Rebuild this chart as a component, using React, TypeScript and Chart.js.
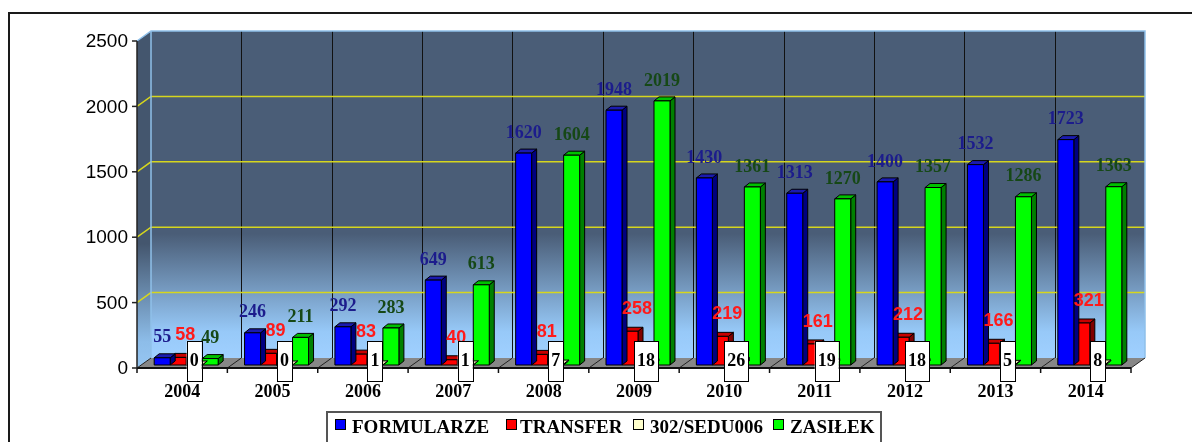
import React, { useEffect, useRef } from 'react';
import { Chart, registerables } from 'chart.js';

Chart.register(...registerables);

const years = ['2004', '2005', '2006', '2007', '2008', '2009', '2010', '2011', '2012', '2013', '2014'];
const formularze = [55, 246, 292, 649, 1620, 1948, 1430, 1313, 1400, 1532, 1723];
const transfer = [58, 89, 83, 40, 81, 258, 219, 161, 212, 166, 321];
const sedu = [0, 0, 1, 1, 7, 18, 26, 19, 18, 5, 8];
const zasilek = [49, 211, 283, 613, 1604, 2019, 1361, 1270, 1357, 1286, 1363];
const yTicks = [0, 500, 1000, 1500, 2000, 2500];
const seriesNames = ['FORMULARZE', 'TRANSFER', '302/SEDU006', 'ZASIŁEK'];

const SERIF = '"Liberation Serif", "Times New Roman", serif';
const SANS = '"Liberation Sans", Arial, sans-serif';

const FRONT = ['#0000ff', '#ff0000', '#ffffcc', '#00ff00'];
const SIDE = ['#000080', '#800000', '#cccc99', '#008000'];
const TOP = ['#1a1ab0', '#c80000', '#e6e6b0', '#00c000'];
const LABEL = ['#1c1c8c', '#ff1a1a', '#000000', '#164816'];

const DX = 14, DY = -10; // wall depth
const BDX = 5, BDY = -4; // bar depth
const SX = 4, SY = -3; // bar plane shift

function poly(ctx: CanvasRenderingContext2D, pts: number[][], fill?: any, stroke?: string, lw = 1) {
  ctx.beginPath();
  ctx.moveTo(pts[0][0], pts[0][1]);
  for (let i = 1; i < pts.length; i++) ctx.lineTo(pts[i][0], pts[i][1]);
  ctx.closePath();
  if (fill) { ctx.fillStyle = fill; ctx.fill(); }
  if (stroke) { ctx.strokeStyle = stroke; ctx.lineWidth = lw; ctx.stroke(); }
}

const scenePlugin = {
  id: 'scene3d',
  beforeDraw(chart: any) {
    const { ctx, chartArea: a, scales } = chart;
    const ys = scales.y;
    const n = years.length;
    const cw = (a.right - a.left) / n;
    ctx.save();
    // outer frame
    ctx.strokeStyle = '#1a1a1a';
    ctx.lineWidth = 2;
    ctx.strokeRect(9, 13, 1400, 800);

    const bl = a.left + DX, br = a.right + DX, bt = a.top + DY, bb = a.bottom + DY;
    // back wall
    const g = ctx.createLinearGradient(0, bt, 0, bb);
    g.addColorStop(0, '#4a5d77');
    g.addColorStop(0.62, '#4a5d77');
    g.addColorStop(0.92, '#97c9f8');
    g.addColorStop(1, '#a0d0ff');
    ctx.fillStyle = g;
    ctx.fillRect(bl, bt, br - bl, bb - bt);
    // left wall
    const g2 = ctx.createLinearGradient(0, a.top, 0, a.bottom);
    g2.addColorStop(0, '#44566e');
    g2.addColorStop(0.62, '#44566e');
    g2.addColorStop(0.92, '#8dbde9');
    g2.addColorStop(1, '#96c6f2');
    poly(ctx, [[a.left, a.top], [bl, bt], [bl, bb], [a.left, a.bottom]], g2);

    // vertical category lines on back wall
    ctx.strokeStyle = '#111';
    ctx.lineWidth = 1;
    for (let i = 1; i < n; i++) {
      const x = Math.round(bl + i * cw) + 0.5;
      ctx.beginPath(); ctx.moveTo(x, bt); ctx.lineTo(x, bb); ctx.stroke();
    }
    // yellow gridlines
    ctx.strokeStyle = '#d6d61e';
    ctx.lineWidth = 1.5;
    for (const v of yTicks) {
      if (v === 0 || v === 2500) continue;
      const y = ys.getPixelForValue(v);
      ctx.beginPath();
      ctx.moveTo(a.left, y);
      ctx.lineTo(bl, y + DY);
      ctx.lineTo(br, y + DY);
      ctx.stroke();
    }
    // wall border (light blue)
    ctx.strokeStyle = '#8fc0ea';
    ctx.lineWidth = 1.5;
    ctx.beginPath();
    ctx.moveTo(a.left, a.top);
    ctx.lineTo(bl, bt);
    ctx.lineTo(br, bt);
    ctx.lineTo(br, bb);
    ctx.stroke();
    ctx.beginPath();
    ctx.moveTo(bl, bt);
    ctx.lineTo(bl, bb);
    ctx.stroke();

    // floor
    poly(ctx, [[a.left, a.bottom], [a.right, a.bottom], [br, bb], [bl, bb]], '#878787');
    ctx.strokeStyle = '#222';
    ctx.lineWidth = 1;
    for (let i = 1; i <= n; i++) {
      const x = a.left + i * cw;
      ctx.beginPath(); ctx.moveTo(x, a.bottom); ctx.lineTo(x + DX, a.bottom + DY); ctx.stroke();
    }
    ctx.beginPath(); ctx.moveTo(a.left, a.bottom); ctx.lineTo(bl, bb); ctx.stroke();
    // front edge
    ctx.strokeStyle = '#111';
    ctx.lineWidth = 2;
    ctx.beginPath(); ctx.moveTo(a.left, a.bottom); ctx.lineTo(a.right, a.bottom); ctx.stroke();
    ctx.lineWidth = 1.5;
    for (let i = 0; i <= n; i++) {
      const x = a.left + i * cw;
      ctx.beginPath(); ctx.moveTo(x, a.bottom); ctx.lineTo(x, a.bottom + 5); ctx.stroke();
    }
    // y axis line and ticks
    ctx.strokeStyle = '#222';
    ctx.lineWidth = 1.5;
    ctx.beginPath(); ctx.moveTo(a.left, a.top); ctx.lineTo(a.left, a.bottom); ctx.stroke();
    ctx.fillStyle = '#000';
    ctx.font = '19px ' + SANS;
    ctx.textAlign = 'right';
    ctx.textBaseline = 'middle';
    for (const v of yTicks) {
      const y = ys.getPixelForValue(v);
      ctx.beginPath(); ctx.moveTo(a.left - 5, y); ctx.lineTo(a.left, y); ctx.stroke();
      ctx.fillText(String(v), a.left - 9, y + 1);
    }
    // category labels
    ctx.font = 'bold 18px ' + SERIF;
    ctx.textAlign = 'center';
    for (let i = 0; i < n; i++) {
      ctx.fillText(years[i], scales.x.getPixelForValue(i), a.bottom + 24);
    }
    ctx.restore();
  },
  beforeDatasetsDraw(chart: any) {
    chart.ctx.save();
    chart.ctx.translate(SX, SY);
  },
  afterDatasetDraw(chart: any, args: any) {
    const ctx = chart.ctx;
    const di = args.index;
    const meta = args.meta;
    for (const el of meta.data) {
      const p = el.getProps(['x', 'y', 'base', 'width'], true);
      const l = p.x - p.width / 2, r = p.x + p.width / 2;
      const t = Math.min(p.y, p.base), b = Math.max(p.y, p.base);
      poly(ctx, [[r, t], [r + BDX, t + BDY], [r + BDX, b + BDY], [r, b]], SIDE[di], '#000', 1);
      poly(ctx, [[l, t], [l + BDX, t + BDY], [r + BDX, t + BDY], [r, t]], TOP[di], '#000', 1);
      poly(ctx, [[l, t], [r, t], [r, b], [l, b]], FRONT[di], '#000', 1);
    }
  },
  afterDatasetsDraw(chart: any) {
    chart.ctx.restore();
  },
  afterDraw(chart: any) {
    const { ctx, chartArea: a } = chart;
    ctx.save();
    ctx.textAlign = 'center';
    ctx.textBaseline = 'middle';
    // value labels
    for (let di = 0; di < 4; di++) {
      const meta = chart.getDatasetMeta(di);
      const vals = chart.data.datasets[di].data;
      meta.data.forEach((el: any, i: number) => {
        const p = el.getProps(['x', 'y'], true);
        const txt = String(vals[i]);
        if (di === 2) {
          ctx.font = 'bold 18px ' + SERIF;
          const w = ctx.measureText(txt).width + 6;
          const cx = p.x + SX;
          const top = a.bottom - 27, bot = a.bottom + 13;
          ctx.fillStyle = '#fff';
          ctx.fillRect(cx - w / 2, top, w, bot - top);
          ctx.strokeStyle = '#000';
          ctx.lineWidth = 1;
          ctx.strokeRect(Math.round(cx - w / 2) + 0.5, top + 0.5, Math.round(w), bot - top);
          ctx.fillStyle = '#000';
          ctx.fillText(txt, cx, a.bottom - 7);
        } else if (di === 1) {
          ctx.font = 'bold 18px ' + SANS;
          ctx.fillStyle = LABEL[di];
          ctx.fillText(txt, p.x + SX + 7, p.y + SY - 22);
        } else {
          ctx.font = 'bold 18px ' + SERIF;
          ctx.fillStyle = LABEL[di];
          ctx.fillText(txt, p.x + SX, p.y + SY - 20);
        }
      });
    }
    // legend
    const lx0 = 327, lx1 = 881, ly0 = 412;
    ctx.strokeStyle = '#555';
    ctx.lineWidth = 2;
    ctx.strokeRect(lx0, ly0, lx1 - lx0, 60);
    const sqX = [335, 506, 633, 773];
    const txX = [352, 520, 650, 790];
    ctx.textAlign = 'left';
    ctx.font = 'bold 19px ' + SERIF;
    for (let i = 0; i < 4; i++) {
      ctx.fillStyle = FRONT[i];
      ctx.fillRect(sqX[i], 419, 11, 11);
      ctx.strokeStyle = '#000';
      ctx.lineWidth = 1;
      ctx.strokeRect(sqX[i] + 0.5, 419.5, 10, 10);
      ctx.fillStyle = '#000';
      ctx.fillText(seriesNames[i], txX[i], 428);
    }
    ctx.restore();
  },
};

export default function App() {
  const ref = useRef<HTMLCanvasElement>(null);
  useEffect(() => {
    if (!ref.current) return;
    const chart = new Chart(ref.current, {
      type: 'bar',
      data: {
        labels: years,
        datasets: [
          { label: seriesNames[0], data: formularze, backgroundColor: 'rgba(0,0,0,0)', borderWidth: 0 },
          { label: seriesNames[1], data: transfer, backgroundColor: 'rgba(0,0,0,0)', borderWidth: 0 },
          { label: seriesNames[2], data: sedu, backgroundColor: 'rgba(0,0,0,0)', borderWidth: 0 },
          { label: seriesNames[3], data: zasilek, backgroundColor: 'rgba(0,0,0,0)', borderWidth: 0 },
        ],
      },
      options: {
        animation: false,
        responsive: true,
        maintainAspectRatio: false,
        layout: { padding: { left: 137, top: 41, right: 61, bottom: 74 } },
        datasets: { bar: { categoryPercentage: 0.708, barPercentage: 1 } },
        scales: {
          x: { display: false, offset: true },
          y: { display: false, min: 0, max: 2500 },
        },
        plugins: { legend: { display: false }, tooltip: { enabled: false } },
      },
      plugins: [scenePlugin],
    });
    return () => chart.destroy();
  }, []);
  return (
    <div style={{ position: 'fixed', left: 0, top: 0, width: 1192, height: 442, background: '#fff' }}>
      <canvas ref={ref} />
    </div>
  );
}
